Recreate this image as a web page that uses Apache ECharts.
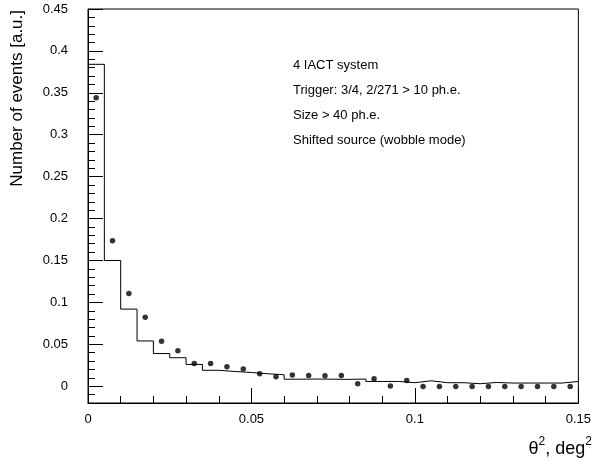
<!DOCTYPE html>
<html><head><meta charset="utf-8">
<script src="https://cdn.jsdelivr.net/npm/echarts@6/dist/echarts.min.js"></script>
<style>html,body{margin:0;padding:0;background:#fff}#c{width:594px;height:462px}</style>
</head><body><div id="c"></div>
<script>
// Histogram bins (lower edges) of theta^2, deg^2
const binLow = [0, 0.005, 0.01, 0.015, 0.02, 0.025, 0.03, 0.035, 0.04, 0.045,
                0.05, 0.055, 0.06, 0.065, 0.07, 0.075, 0.08, 0.085, 0.09, 0.095,
                0.1, 0.105, 0.11, 0.115, 0.12, 0.125, 0.13, 0.135, 0.14, 0.145];
const lastEdge = 0.15;
// Bin centres for the points
const binCenter = [0.0025, 0.0075, 0.0125, 0.0175, 0.0225, 0.0275, 0.0325, 0.0375, 0.0425, 0.0475,
                   0.0525, 0.0575, 0.0625, 0.0675, 0.0725, 0.0775, 0.0825, 0.0875, 0.0925, 0.0975,
                   0.1025, 0.1075, 0.1125, 0.1175, 0.1225, 0.1275, 0.1325, 0.1375, 0.1425, 0.1475];
// Histogram (step line) values
const histValues = [0.384, 0.150, 0.092, 0.054, 0.039, 0.034, 0.026, 0.019, 0.0176, 0.0164,
                    0.0149, 0.0137, 0.0084, 0.0086, 0.0084, 0.0082, 0.0086, 0.0057, 0.0057, 0.0042,
                    0.0065, 0.0042, 0.0042, 0.0030, 0.0045, 0.0038, 0.0038, 0.0038, 0.0038, 0.0057];
// Data points (dots)
const pointValues = [0.344, 0.1736, 0.1105, 0.0824, 0.0538, 0.0423, 0.0271, 0.0271, 0.0232, 0.0205,
                     0.0149, 0.0113, 0.0133, 0.0129, 0.0125, 0.0129, 0.0030, 0.0089, 0.0002, 0.0069,
                     -0.0004, -0.0004, -0.0004, -0.0004, -0.0004, -0.0004, -0.0004, -0.0004, -0.0004, -0.0004];
// Axis ticks
const yMajorTicks = [0, 0.05, 0.1, 0.15, 0.2, 0.25, 0.3, 0.35, 0.4, 0.45];
const annotations = ["4 IACT system", "Trigger: 3/4, 2/271 > 10 ph.e.", "Size > 40 ph.e.", "Shifted source (wobble mode)"];
const yTitle = "Number of events [a.u.]";
const xTitleRich = "{n|θ}{s|2}{n|, deg}{s|2}";

const FONT = '"Liberation Sans", Arial, Helvetica, sans-serif';
const chart = echarts.init(document.getElementById('c'), null, {renderer: 'canvas'});

const stepData = binLow.map((x, i) => [x, histValues[i]]);
stepData.push([lastEdge, histValues[histValues.length - 1]]);
const dotData = binCenter.map((x, i) => [x, pointValues[i]]);

const black = {color: '#000', width: 1};
const option = {
  animation: false,
  backgroundColor: '#fff',
  grid: {left: 88, right: 14, top: 9, bottom: 59, show: true, borderColor: '#000', borderWidth: 1},
  xAxis: {
    type: 'value', min: 0, max: 0.15, interval: 0.05,
    axisLine: {show: true, onZero: false, lineStyle: black},
    axisTick: {show: true, inside: true, length: 15, lineStyle: black},
    minorTick: {show: true, splitNumber: 5, length: 7, lineStyle: black},
    splitLine: {show: false}, minorSplitLine: {show: false},
    axisLabel: {color: '#000', fontSize: 13, fontFamily: FONT, margin: 10}
  },
  yAxis: [{
    type: 'value', min: -0.02, max: 0.45,
    axisLine: {show: true, onZero: false, lineStyle: black},
    axisTick: {show: true, inside: true, length: 15, lineStyle: black, customValues: yMajorTicks},
    axisLabel: {color: '#000', fontSize: 13, fontFamily: FONT, margin: 20, customValues: yMajorTicks},
    splitLine: {show: false}
  }, {
    type: 'value', min: -0.02, max: 0.45, interval: 0.01, position: 'left',
    axisLine: {show: false},
    axisTick: {show: true, inside: true, length: 7, lineStyle: black},
    axisLabel: {show: false},
    splitLine: {show: false}
  }],
  series: [{
    type: 'line', step: 'end', data: stepData, yAxisIndex: 0,
    showSymbol: false, symbol: 'none',
    lineStyle: {color: '#000', width: 1}, silent: true
  }, {
    type: 'scatter', data: dotData, yAxisIndex: 0,
    symbol: 'circle', symbolSize: 5.5,
    itemStyle: {color: '#000'}, silent: true
  }],
  graphic: [
    {type: 'text', x: 17, y: 10, rotation: Math.PI / 2,
     style: {text: yTitle, fontSize: 17, fontFamily: FONT, fill: '#000', align: 'right', verticalAlign: 'middle'}},
    {type: 'text', x: 592, y: 458,
     style: {text: xTitleRich, fill: '#000', align: 'right', verticalAlign: 'bottom',
       rich: {
         n: {fontSize: 18, fontFamily: FONT, fill: '#000', verticalAlign: 'bottom', lineHeight: 26},
         s: {fontSize: 12, fontFamily: FONT, fill: '#000', verticalAlign: 'bottom', lineHeight: 26, padding: [0, 0, 10, 0]}
       }}}
  ].concat(annotations.map((t, i) => ({
    type: 'text', x: 293, y: 65 + 25 * i,
    style: {text: t, fontSize: 13, fontFamily: FONT, fill: '#000', align: 'left', verticalAlign: 'middle'}
  })))
};
chart.setOption(option);
</script>
</body></html>
